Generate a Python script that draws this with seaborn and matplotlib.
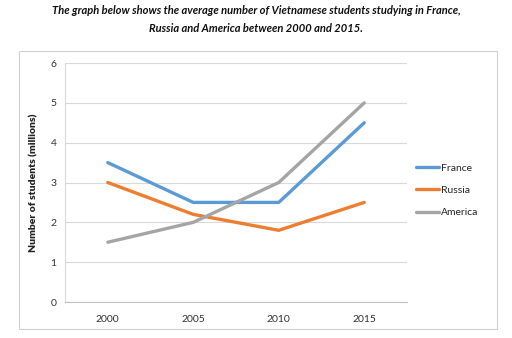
import matplotlib
matplotlib.use("Agg")
import matplotlib.pyplot as plt
from matplotlib.patches import Rectangle
import seaborn as sns
import pandas as pd

years = ["2000", "2005", "2010", "2015"]
france = [3.5, 2.5, 2.5, 4.5]
russia = [3.0, 2.2, 1.8, 2.5]
america = [1.5, 2.0, 3.0, 5.0]
series_names = ["France", "Russia", "America"]
colors = ["#5B9BD5", "#ED7D31", "#A5A5A5"]
title = ("The graph below shows the average number of Vietnamese students studying in France,\n"
         "Russia and America between 2000 and 2015.")
ylabel = "Number of students (millions)"

df = pd.DataFrame({
    "year": years * 3,
    "value": france + russia + america,
    "country": [n for n in series_names for _ in years],
})

sns.set_theme(style="white")
plt.rcParams["font.family"] = ["Lato", "DejaVu Sans"]

fig = plt.figure(figsize=(5.12, 3.38), dpi=100)
ax = fig.add_axes([65/512, 1 - 302/338, (407-65)/512, (302-63)/338])

sns.lineplot(data=df, x="year", y="value", hue="country", palette=colors,
             hue_order=series_names, sort=False, linewidth=2.4, ax=ax)

ax.set_xlim(-0.5, 3.5)
ax.set_ylim(0, 6)
ax.set_yticks(range(0, 7))
ax.yaxis.grid(True, color="#D9D9D9", linewidth=0.8)
ax.xaxis.grid(False)
for s in ["top", "right"]:
    ax.spines[s].set_visible(False)
ax.spines["left"].set_color("#D9D9D9")
ax.spines["bottom"].set_color("#BFBFBF")
ax.spines["left"].set_linewidth(0.8)
ax.spines["bottom"].set_linewidth(0.8)
ax.tick_params(axis="both", length=0, labelsize=7.5, colors="#333333", pad=6)
ax.tick_params(axis="x", pad=9)
ax.set_xlabel("")
ax.set_ylabel(ylabel, fontsize=7.5, fontweight="heavy", color="#222222", labelpad=9)

leg = ax.legend(loc="center left", bbox_to_anchor=(1.0, 0.467), frameon=False,
                fontsize=7.5, handlelength=2.2, handletextpad=0.15, labelspacing=1.25)
for line in leg.get_lines():
    line.set_linewidth(2.4)

fig.text(0.5, 1 - 10/338, title.split("\n")[0], ha="center", va="center",
         fontsize=8, fontweight="bold", fontstyle="italic", color="#111111")
fig.text(0.5, 1 - 29/338, title.split("\n")[1], ha="center", va="center",
         fontsize=8, fontweight="bold", fontstyle="italic", color="#111111")

fig.patches.append(Rectangle((19/512, 1 - 329/338), (497-19)/512, (329-51)/338,
                             transform=fig.transFigure, fill=False,
                             edgecolor="#D0D0D0", linewidth=0.8))

fig.savefig("out.png", dpi=100)
